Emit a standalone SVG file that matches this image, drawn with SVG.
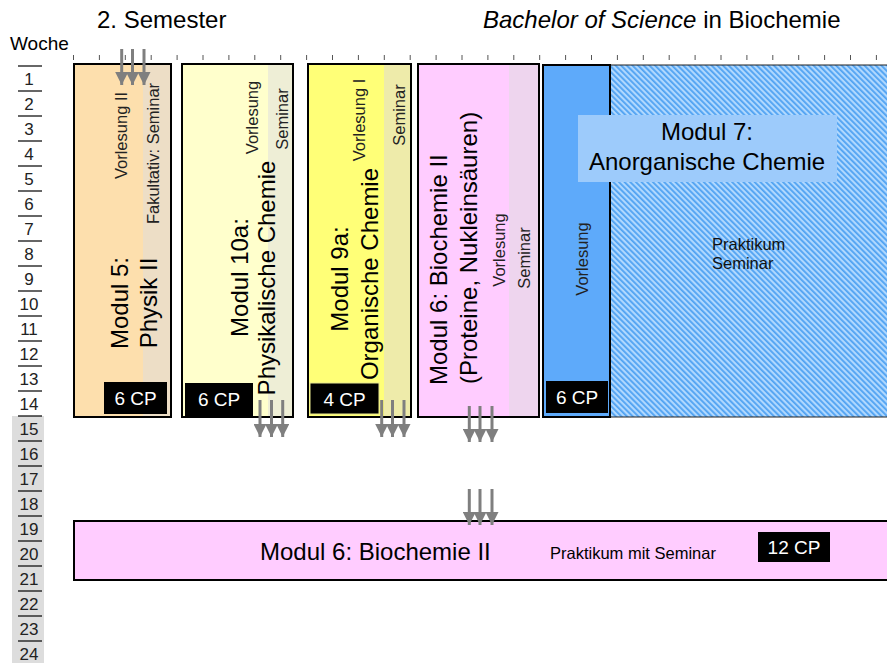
<svg xmlns="http://www.w3.org/2000/svg" width="887" height="663" viewBox="0 0 887 663">
<style>
text{font-family:"Liberation Sans",Arial,sans-serif;fill:#000}
.big{font-size:24px}
.sm{font-size:16.5px;fill:#222}
.wk{font-size:17px;fill:#222;text-anchor:middle}
.cp{font-size:19px;fill:#fff;text-anchor:middle}
.box{stroke:#000;stroke-width:2}
.wl{stroke:#000;stroke-width:1.2}
.tk{stroke:#555;stroke-width:1}
.arr{stroke:#7f7f7f;stroke-width:3;fill:none;marker-end:url(#ah)}
</style>
<defs>
<marker id="ah" markerUnits="userSpaceOnUse" markerWidth="13" markerHeight="13" refX="13" refY="6.5" orient="auto" viewBox="0 0 13 13">
<path d="M0,0 L13,6.5 L0,13 z" fill="#7f7f7f"/>
</marker>
<pattern id="hatch" patternUnits="userSpaceOnUse" width="4" height="10" patternTransform="rotate(-45)">
<rect width="4" height="10" fill="#b0d8fe"/>
<rect width="1.8" height="10" fill="#4fa2f2"/>
</pattern>
</defs>

<!-- titles -->
<g id="titles">
<text class="big" x="97" y="28">2. Semester</text>
<text class="big" x="483" y="28"><tspan font-style="italic">Bachelor of Science</tspan> in Biochemie</text>
<text x="10" y="50" font-size="19">Woche</text>
</g>

<!-- week scale -->
<g id="weeks">
<rect x="12" y="416" width="32" height="247" fill="#dddddd"/>
<line class="wl" x1="18" y1="66" x2="42" y2="66"/><text class="wk" x="29" y="84.5">1</text>
<line class="wl" x1="18" y1="91" x2="42" y2="91"/><text class="wk" x="29" y="109.5">2</text>
<line class="wl" x1="18" y1="116" x2="42" y2="116"/><text class="wk" x="29" y="134.5">3</text>
<line class="wl" x1="18" y1="141" x2="42" y2="141"/><text class="wk" x="29" y="159.5">4</text>
<line class="wl" x1="18" y1="166" x2="42" y2="166"/><text class="wk" x="29" y="184.5">5</text>
<line class="wl" x1="18" y1="191" x2="42" y2="191"/><text class="wk" x="29" y="209.5">6</text>
<line class="wl" x1="18" y1="216" x2="42" y2="216"/><text class="wk" x="29" y="234.5">7</text>
<line class="wl" x1="18" y1="241" x2="42" y2="241"/><text class="wk" x="29" y="259.5">8</text>
<line class="wl" x1="18" y1="266" x2="42" y2="266"/><text class="wk" x="29" y="284.5">9</text>
<line class="wl" x1="18" y1="291" x2="42" y2="291"/><text class="wk" x="29" y="309.5">10</text>
<line class="wl" x1="18" y1="316" x2="42" y2="316"/><text class="wk" x="29" y="334.5">11</text>
<line class="wl" x1="18" y1="341" x2="42" y2="341"/><text class="wk" x="29" y="359.5">12</text>
<line class="wl" x1="18" y1="366" x2="42" y2="366"/><text class="wk" x="29" y="384.5">13</text>
<line class="wl" x1="18" y1="391" x2="42" y2="391"/><text class="wk" x="29" y="409.5">14</text>
<line class="wl" x1="18" y1="416" x2="42" y2="416"/><text class="wk" x="29" y="434.5">15</text>
<line class="wl" x1="18" y1="441" x2="42" y2="441"/><text class="wk" x="29" y="459.5">16</text>
<line class="wl" x1="18" y1="466" x2="42" y2="466"/><text class="wk" x="29" y="484.5">17</text>
<line class="wl" x1="18" y1="491" x2="42" y2="491"/><text class="wk" x="29" y="509.5">18</text>
<line class="wl" x1="18" y1="516" x2="42" y2="516"/><text class="wk" x="29" y="534.5">19</text>
<line class="wl" x1="18" y1="541" x2="42" y2="541"/><text class="wk" x="29" y="559.5">20</text>
<line class="wl" x1="18" y1="566" x2="42" y2="566"/><text class="wk" x="29" y="584.5">21</text>
<line class="wl" x1="18" y1="591" x2="42" y2="591"/><text class="wk" x="29" y="609.5">22</text>
<line class="wl" x1="18" y1="616" x2="42" y2="616"/><text class="wk" x="29" y="634.5">23</text>
<line class="wl" x1="18" y1="641" x2="42" y2="641"/><text class="wk" x="29" y="659.5">24</text>
</g>

<!-- ticks -->
<g id="ticks">
<line class="tk" x1="73.5" y1="55" x2="73.5" y2="60"/>
<line class="tk" x1="99.4" y1="55" x2="99.4" y2="60"/>
<line class="tk" x1="125.3" y1="55" x2="125.3" y2="60"/>
<line class="tk" x1="151.2" y1="55" x2="151.2" y2="60"/>
<line class="tk" x1="177.1" y1="55" x2="177.1" y2="60"/>
<line class="tk" x1="203" y1="55" x2="203" y2="60"/>
<line class="tk" x1="228.9" y1="55" x2="228.9" y2="60"/>
<line class="tk" x1="254.8" y1="55" x2="254.8" y2="60"/>
<line class="tk" x1="280.7" y1="55" x2="280.7" y2="60"/>
<line class="tk" x1="306.6" y1="55" x2="306.6" y2="60"/>
<line class="tk" x1="332.5" y1="55" x2="332.5" y2="60"/>
<line class="tk" x1="358.4" y1="55" x2="358.4" y2="60"/>
<line class="tk" x1="384.3" y1="55" x2="384.3" y2="60"/>
<line class="tk" x1="410.2" y1="55" x2="410.2" y2="60"/>
<line class="tk" x1="436.1" y1="55" x2="436.1" y2="60"/>
<line class="tk" x1="462" y1="55" x2="462" y2="60"/>
<line class="tk" x1="487.9" y1="55" x2="487.9" y2="60"/>
<line class="tk" x1="513.8" y1="55" x2="513.8" y2="60"/>
<line class="tk" x1="539.7" y1="55" x2="539.7" y2="60"/>
<line class="tk" x1="565.6" y1="55" x2="565.6" y2="60"/>
<line class="tk" x1="591.5" y1="55" x2="591.5" y2="60"/>
<line class="tk" x1="617.4" y1="55" x2="617.4" y2="60"/>
<line class="tk" x1="643.3" y1="55" x2="643.3" y2="60"/>
<line class="tk" x1="669.2" y1="55" x2="669.2" y2="60"/>
<line class="tk" x1="695.1" y1="55" x2="695.1" y2="60"/>
<line class="tk" x1="721" y1="55" x2="721" y2="60"/>
<line class="tk" x1="746.9" y1="55" x2="746.9" y2="60"/>
<line class="tk" x1="772.8" y1="55" x2="772.8" y2="60"/>
<line class="tk" x1="798.7" y1="55" x2="798.7" y2="60"/>
<line class="tk" x1="824.6" y1="55" x2="824.6" y2="60"/>
<line class="tk" x1="850.5" y1="55" x2="850.5" y2="60"/>
<line class="tk" x1="876.4" y1="55" x2="876.4" y2="60"/>
</g>

<!-- Modul 5 -->
<g id="modul5">
<rect x="74" y="64" width="97" height="353" fill="#fddfad"/>
<rect x="143" y="64" width="28" height="353" fill="#eddec6"/>
<rect class="box" x="74" y="64" width="97" height="353" fill="none"/>
<text class="sm" transform="translate(126.5,135.5) rotate(-90)" text-anchor="middle">Vorlesung II</text>
<text class="sm" transform="translate(159,153.5) rotate(-90)" text-anchor="middle">Fakultativ: Seminar</text>
<text class="big" transform="translate(128,303) rotate(-90)" text-anchor="middle">Modul 5:</text>
<text class="big" transform="translate(157,303) rotate(-90)" text-anchor="middle">Physik II</text>
<rect x="104" y="382" width="63" height="32" fill="#000"/>
<text class="cp" x="135.5" y="405">6 CP</text>
</g>

<!-- Modul 10a -->
<g id="modul10a">
<rect x="182" y="64" width="111" height="353" fill="#ffffcc"/>
<rect x="268" y="64" width="25" height="353" fill="#eeeed6"/>
<rect class="box" x="182" y="64" width="111" height="353" fill="none"/>
<text class="sm" transform="translate(258,117.5) rotate(-90)" text-anchor="middle">Vorlesung</text>
<text class="sm" transform="translate(288,119) rotate(-90)" text-anchor="middle">Seminar</text>
<text class="big" transform="translate(248,277.5) rotate(-90)" text-anchor="middle">Modul 10a:</text>
<text class="big" transform="translate(274.5,278) rotate(-90)" text-anchor="middle">Physikalische Chemie</text>
<rect x="185" y="383" width="68" height="33" fill="#000"/>
<text class="cp" x="219" y="406">6 CP</text>
</g>

<!-- Modul 9a -->
<g id="modul9a">
<rect x="308" y="64" width="103" height="353" fill="#ffff77"/>
<rect x="384" y="64" width="27" height="353" fill="#eeebaa"/>
<rect class="box" x="308" y="64" width="103" height="353" fill="none"/>
<text class="sm" transform="translate(365,120) rotate(-90)" text-anchor="middle">Vorlesung I</text>
<text class="sm" transform="translate(405,115) rotate(-90)" text-anchor="middle">Seminar</text>
<text class="big" transform="translate(348,279) rotate(-90)" text-anchor="middle">Modul 9a:</text>
<text class="big" transform="translate(378,274) rotate(-90)" text-anchor="middle">Organische Chemie</text>
<rect x="310" y="383" width="69" height="31" fill="#000" stroke="#e8e890" stroke-width="1"/>
<text class="cp" x="344.5" y="405.5">4 CP</text>
</g>

<!-- Modul 6 (Vorlesung) -->
<g id="modul6a">
<rect x="418" y="64" width="121" height="353" fill="#ffccff"/>
<rect x="509" y="64" width="30" height="353" fill="#eed5ee"/>
<rect class="box" x="418" y="64" width="121" height="353" fill="none"/>
<text class="big" transform="translate(446.5,385) rotate(-90)">Modul 6:  Biochemie II</text>
<text class="big" transform="translate(476.5,384) rotate(-90)">(Proteine, Nukleinsäuren)</text>
<text class="sm" transform="translate(505,250) rotate(-90)" text-anchor="middle">Vorlesung</text>
<text class="sm" transform="translate(530,258) rotate(-90)" text-anchor="middle">Seminar</text>
</g>

<!-- Modul 7 -->
<g id="modul7">
<rect x="610" y="65" width="282" height="352" fill="url(#hatch)" stroke="#222" stroke-width="1"/>
<rect class="box" x="543" y="65" width="67" height="352" fill="#5eaafa"/>
<text class="sm" transform="translate(587.5,259) rotate(-90)" text-anchor="middle">Vorlesung</text>
<rect x="546" y="381" width="62" height="32" fill="#000"/>
<text class="cp" x="577" y="404">6 CP</text>
<rect x="578" y="115" width="259" height="67" fill="#9dcbfb"/>
<text class="big" x="707" y="140" text-anchor="middle">Modul 7:</text>
<text class="big" x="707" y="170" text-anchor="middle">Anorganische Chemie</text>
<text class="sm" x="712" y="249.5" style="fill:#111">Praktikum</text>
<text class="sm" x="712" y="269" style="fill:#111">Seminar</text>
</g>

<!-- Modul 6 Praktikum -->
<g id="modul6b">
<rect class="box" x="74" y="521" width="820" height="59" fill="#ffccff"/>
<text class="big" x="260" y="560">Modul 6: Biochemie II</text>
<text x="550" y="559" font-size="16.5" fill="#111">Praktikum mit Seminar</text>
<rect x="758" y="532" width="72" height="30" fill="#000"/>
<text class="cp" x="794" y="554">12 CP</text>
</g>

<!-- connectors -->
<g id="connectors">
<line class="arr" x1="121.7" y1="49" x2="121.7" y2="85"/>
<line class="arr" x1="132.5" y1="49" x2="132.5" y2="85"/>
<line class="arr" x1="144" y1="49" x2="144" y2="85"/>
<line class="arr" x1="260" y1="400" x2="260" y2="437"/>
<line class="arr" x1="271.5" y1="400" x2="271.5" y2="437"/>
<line class="arr" x1="282.7" y1="400" x2="282.7" y2="437"/>
<line class="arr" x1="381.7" y1="400" x2="381.7" y2="437"/>
<line class="arr" x1="392.5" y1="400" x2="392.5" y2="437"/>
<line class="arr" x1="404" y1="400" x2="404" y2="437"/>
<line class="arr" x1="469.3" y1="406" x2="469.3" y2="442"/>
<line class="arr" x1="480" y1="406" x2="480" y2="442"/>
<line class="arr" x1="492" y1="406" x2="492" y2="442"/>
<line class="arr" x1="469.3" y1="489" x2="469.3" y2="525"/>
<line class="arr" x1="480" y1="489" x2="480" y2="525"/>
<line class="arr" x1="492" y1="489" x2="492" y2="525"/>
</g>
</svg>
